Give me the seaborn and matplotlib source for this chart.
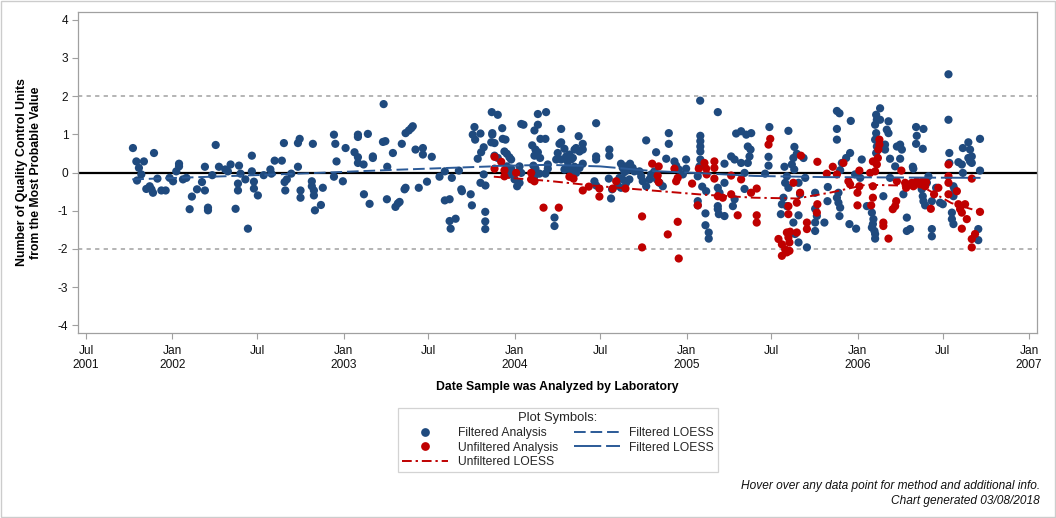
import numpy as np
import pandas as pd
import matplotlib
matplotlib.use("Agg")
import matplotlib.pyplot as plt
import matplotlib.dates as mdates
from matplotlib.lines import Line2D
from matplotlib.patches import Rectangle
import seaborn as sns

# ---------------- data (decimal years, QC units) ----------------
filtered_year = [
    2001.774, 2001.794, 2001.838, 2001.809, 2001.823, 2001.798, 2001.897, 2001.852, 2001.872, 2001.882,
    2001.891, 2001.917, 2001.940, 2001.965, 2001.988, 2002.008, 2002.043, 2002.043, 2002.027, 2002.066,
    2002.086, 2002.105, 2002.118, 2002.148, 2002.177, 2002.194, 2002.194, 2002.212, 2002.212, 2002.237,
    2002.257, 2002.276, 2002.313, 2002.328, 2002.344, 2002.373, 2002.387, 2002.387, 2002.393, 2002.402,
    2002.430, 2002.445, 2002.468, 2002.468, 2002.480, 2002.480, 2002.503, 2002.537, 2002.576, 2002.582,
    2002.601, 2002.643, 2002.655, 2002.659, 2002.663, 2002.672, 2002.698, 2002.737, 2002.747, 2002.737,
    2002.752, 2002.752, 2002.824, 2002.818, 2002.818, 2002.830, 2002.830, 2002.836, 2002.871, 2002.882,
    2002.947, 2002.955, 2002.962, 2002.947, 2002.999, 2003.015, 2003.067, 2003.087, 2003.087, 2003.087,
    2003.145, 2003.087, 2003.120, 2003.122, 2003.155, 2003.174, 2003.174, 2003.233, 2003.247, 2003.237,
    2003.258, 2003.256, 2003.291, 2003.306, 2003.320, 2003.330, 2003.343, 2003.359, 2003.365, 2003.365,
    2003.384, 2003.398, 2003.407, 2003.423, 2003.442,
    2003.466, 2003.466, 2003.518, 2003.490, 2003.563, 2003.594, 2003.594, 2003.622, 2003.635, 2003.622,
    2003.628, 2003.657, 2003.676, 2003.690, 2003.694, 2003.745, 2003.752, 2003.757, 2003.767, 2003.771,
    2003.802, 2003.786, 2003.806, 2003.821, 2003.802, 2003.831, 2003.821, 2003.830, 2003.830, 2003.830,
    2003.868, 2003.903, 2003.871, 2003.871, 2003.865, 2003.884, 2003.929, 2003.932, 2003.948, 2003.884,
    2003.903, 2003.942, 2003.956, 2003.971, 2003.981, 2003.956, 2003.981, 2003.971, 2004.001, 2004.016,
    2004.030, 2004.030, 2004.040, 2004.040, 2004.053, 2004.117, 2004.137, 2004.137, 2004.185, 2004.104,
    2004.123, 2004.117, 2004.137, 2004.150, 2004.152, 2004.181, 2004.111, 2004.123, 2004.117, 2004.146,
    2004.195, 2004.195, 2004.181, 2004.234, 2004.234, 2004.244, 2004.253, 2004.263, 2004.273, 2004.273,
    2004.273, 2004.292, 2004.302, 2004.311, 2004.321, 2004.331, 2004.341, 2004.351, 2004.360, 2004.375,
    2004.380, 2004.399, 2004.399, 2004.292, 2004.311, 2004.331, 2004.351, 2004.360, 2004.380, 2004.399,
    2004.477, 2004.477, 2004.477, 2004.467, 2004.477, 2004.554, 2004.554, 2004.551, 2004.570, 2004.564,
    2004.622, 2004.632, 2004.642, 2004.652, 2004.661, 2004.675, 2004.690, 2004.700, 2004.613, 2004.632,
    2004.652, 2004.671, 2004.603, 2004.622, 2004.730, 2004.740, 2004.749, 2004.769, 2004.788, 2004.798,
    2004.817, 2004.831, 2004.847, 2004.866, 2004.769, 2004.827, 2004.886, 2004.901, 2004.901, 2004.934,
    2004.944, 2004.959, 2004.983, 2005.002, 2005.002, 2005.084, 2005.085, 2005.085, 2005.085, 2005.085,
    2005.085, 2005.080, 2005.070, 2005.096, 2005.119, 2005.070, 2005.070, 2005.115, 2005.115, 2005.134,
    2005.134, 2005.187, 2005.187, 2005.197, 2005.187, 2005.187, 2005.193, 2005.226, 2005.226, 2005.226,
    2005.265, 2005.285, 2005.294, 2005.323, 2005.353, 2005.382, 2005.362, 2005.378, 2005.372, 2005.323,
    2005.362, 2005.343, 2005.343, 2005.285, 2005.275,
    2005.488, 2005.483, 2005.483, 2005.463, 2005.599, 2005.634, 2005.648, 2005.628, 2005.619, 2005.633,
    2005.576, 2005.590, 2005.580, 2005.599, 2005.570, 2005.561, 2005.590, 2005.555, 2005.687, 2005.697,
    2005.658, 2005.667, 2005.658, 2005.628, 2005.638, 2005.658, 2005.707, 2005.755, 2005.755, 2005.765,
    2005.755, 2005.755, 2005.809, 2005.829, 2005.827, 2005.882, 2005.897, 2005.882, 2005.882, 2005.963,
    2005.901, 2005.959, 2005.936, 2005.911, 2005.891, 2005.882, 2005.891, 2005.901, 2005.897, 2005.955,
    2005.994, 2006.027, 2005.988, 2006.018, 2006.057, 2006.086, 2006.095, 2006.092, 2006.105, 2006.105,
    2006.101, 2006.086, 2006.111, 2006.115, 2006.105, 2006.134, 2006.134, 2006.111, 2006.105, 2006.115,
    2006.111, 2006.163, 2006.163, 2006.173, 2006.183, 2006.183, 2006.192, 2006.222, 2006.232, 2006.251,
    2006.261, 2006.251, 2006.153, 2006.192, 2006.270, 2006.290, 2006.290, 2006.309, 2006.325, 2006.328,
    2006.344, 2006.348, 2006.344, 2006.387, 2006.383, 2006.377, 2006.383, 2006.387, 2006.397, 2006.407,
    2006.416, 2006.461, 2006.436, 2006.436, 2006.436, 2006.484, 2006.500, 2006.533, 2006.533, 2006.538,
    2006.538, 2006.562, 2006.568, 2006.562, 2006.553, 2006.553, 2006.562, 2006.591, 2006.611, 2006.617,
    2006.649, 2006.659, 2006.669, 2006.649, 2006.659, 2006.669, 2006.617, 2006.717, 2006.717, 2006.707,
    2006.707,
]
filtered_value = [
    0.64, 0.29, 0.29, 0.12, -0.05, -0.21, 0.51, -0.43, -0.36, -0.44,
    -0.53, -0.16, -0.47, -0.47, -0.14, -0.23, 0.23, 0.16, 0.03, -0.18,
    -0.14, -0.96, -0.63, -0.44, -0.25, 0.15, -0.47, -0.92, -0.99, -0.07,
    0.72, 0.15, 0.08, 0.03, 0.21, -0.95, -0.29, -0.47, 0.18, -0.03,
    -0.18, -1.47, 0.44, 0.03, -0.24, -0.42, -0.60, -0.07, 0.08, -0.03,
    0.31, 0.31, 0.77, -0.25, -0.47, -0.18, -0.03, 0.77, 0.88, 0.15,
    -0.47, -0.66, 0.75, -0.23, -0.36, -0.47, -0.60, -0.99, -0.85, -0.40,
    0.99, 0.75, 0.29, -0.11, -0.23, 0.64, 0.53, 0.40, 0.99, 0.93,
    1.01, 0.25, 0.21, -0.57, -0.82, 0.42, 0.38, 0.80, 0.82, 1.79,
    0.15, -0.70, 0.51, -0.90, -0.81, -0.77, 0.75, -0.44, -0.40, 1.03,
    1.10, 1.16, 1.21, 0.60, -0.40,
    0.64, 0.47, 0.41, -0.24, -0.11, 0.03, -0.73, -0.70, -0.14, -1.27,
    -1.47, -1.21, 0.05, -0.44, -0.49, -0.57, -0.86, 0.99, 1.19, 0.86,
    1.02, 0.36, 0.53, 0.66, -0.27, -0.34, -0.05, -1.03, -1.28, -1.48,
    1.58, 1.51, 1.03, 0.99, 0.79, 0.77, 1.16, 0.88, 0.86, 0.44,
    0.38, 0.55, 0.49, 0.40, 0.34, 0.16, 0.10, -0.05, -0.18, -0.36,
    -0.27, 0.16, -0.01, 1.27, 1.25, 1.10, 1.25, 1.53, 1.58, 0.71,
    0.60, 0.44, 0.53, 0.38, 0.88, 0.88, 0.18, 0.10, -0.10, -0.03,
    0.21, 0.10, -0.03, -1.18, -1.40, 0.34, 0.51, 0.75, 0.79, 1.14,
    0.34, 0.62, 0.42, 0.29, 0.47, 0.34, 0.38, 0.60, 0.64, 0.95,
    0.55, 0.75, 0.60, 0.08, 0.15, 0.03, 0.15, -0.01, 0.12, 0.23,
    1.29, 0.42, 0.34, -0.23, -0.34, 0.60, 0.44, -0.16, -0.44, -0.68,
    0.23, 0.12, 0.01, 0.16, 0.06, 0.23, 0.12, 0.03, -0.14, -0.18,
    -0.27, -0.18, -0.34, -0.40, 0.03, -0.10, -0.23, -0.36, -0.18, -0.05,
    0.03, -0.18, -0.27, -0.36, 0.84, 0.53, 0.36, 1.03, 0.75, 0.29,
    0.18, 0.08, -0.05, 0.34, 0.10, 1.88, 0.96, 0.82, 0.68, 0.55,
    0.34, 0.16, -0.10, -0.37, -0.49, -0.75, -0.86, -1.07, -1.38, -1.57,
    -1.73, 1.58, -0.40, -0.53, -0.88, -0.96, -1.09, -1.14, -0.27, 0.23,
    0.42, 0.34, 1.02, 1.08, 0.99, 1.03, 0.68, 0.60, 0.42, 0.25,
    0.25, -0.01, -0.43, -0.70, -0.88,
    1.19, 0.41, 0.18, -0.03, 1.09, 0.67, 0.49, 0.38, 0.21, 0.08,
    0.15, -0.10, -0.27, -0.40, -0.66, -0.83, -0.88, -1.09, 0.38, -0.14,
    -0.27, -0.57, -1.12, -1.31, -1.61, -1.83, -1.96, -0.53, -0.95, -1.14,
    -1.31, -1.53, -1.31, -0.38, -0.75, 1.61, 1.55, 1.14, 0.86, 1.35,
    0.06, 0.51, 0.38, 0.25, -0.53, -0.66, -0.79, -0.92, -1.14, -1.35,
    -1.47, 0.34, -0.05, -0.14, -0.88, -1.05, -1.22, -1.35, -1.61, -1.73,
    -1.53, -1.44, 1.51, 1.38, 1.25, 1.68, 1.38, 1.03, 0.86, 0.68,
    0.51, 0.73, 0.60, 1.12, 1.03, 1.34, 0.36, 0.16, 0.68, 0.73,
    0.60, 0.36, -0.62, -0.14, -0.57, -1.18, -1.53, -1.48, 0.15, 0.10,
    1.19, 0.96, 0.75, 1.14, 0.62, -0.44, -0.62, -0.75, -0.86, -0.27,
    -0.10, -0.40, -0.75, -1.48, -1.67, -0.79, -0.83, 2.57, 1.38, 0.51,
    0.25, -0.36, -0.44, -0.62, -1.05, -1.22, -1.35, 0.27, 0.21, 0.64,
    0.79, 0.60, 0.42, 0.38, 0.29, 0.25, -0.01, 0.88, 0.05, -1.48,
    -1.77,
]

unfiltered_year = [
    2003.884, 2003.923, 2003.884, 2003.942, 2003.942, 2004.010, 2004.098, 2004.098, 2004.117, 2004.321,
    2004.345, 2004.170, 2004.259, 2004.399, 2004.434, 2004.496, 2004.496, 2004.574, 2004.594, 2004.648,
    2004.745, 2004.745, 2004.804, 2004.842, 2004.836, 2004.842, 2004.895, 2004.953, 2004.959, 2004.934,
    2004.953, 2004.944, 2005.037, 2005.076, 2005.070, 2005.109, 2005.119, 2005.122, 2005.167, 2005.167,
    2005.167, 2005.187, 2005.216, 2005.265, 2005.265, 2005.303, 2005.323, 2005.381, 2005.414, 2005.414,
    2005.414,
    2005.493, 2005.483, 2005.541, 2005.561, 2005.561, 2005.580, 2005.590, 2005.599, 2005.605, 2005.605,
    2005.590, 2005.609, 2005.599, 2005.599, 2005.628, 2005.648, 2005.672, 2005.667, 2005.648, 2005.707,
    2005.707, 2005.768, 2005.768, 2005.765, 2005.823, 2005.858, 2005.882, 2005.920, 2005.949, 2005.959,
    2006.002, 2006.013, 2006.013, 2006.002, 2006.076, 2006.092, 2006.092, 2006.082, 2006.105, 2006.115,
    2006.121, 2006.124, 2006.130, 2006.130, 2006.092, 2006.153, 2006.153, 2006.183, 2006.208, 2006.222,
    2006.228, 2006.232, 2006.258, 2006.280, 2006.286, 2006.319, 2006.328, 2006.348, 2006.367, 2006.383,
    2006.397, 2006.402, 2006.430, 2006.449, 2006.474, 2006.533, 2006.533, 2006.533, 2006.533, 2006.582,
    2006.591, 2006.601, 2006.611, 2006.630, 2006.640, 2006.611, 2006.669, 2006.669, 2006.688, 2006.669,
    2006.717,
]
unfiltered_value = [
    0.41, 0.28, 0.10, 0.06, -0.10, -0.01, -0.01, -0.18, -0.23, -0.11,
    -0.16, -0.92, -0.92, -0.47, -0.37, -0.42, -0.63, -0.42, -0.23, -0.42,
    -1.15, -1.96, 0.23, 0.16, -0.08, -0.25, -1.62, -1.29, -2.25, 0.10,
    -0.14, -0.23, -0.29, 0.10, -0.86, 0.25, 0.10, -0.05, 0.29, 0.12,
    -0.16, -0.62, -0.66, -0.08, -0.57, -1.12, -0.18, -0.53, -0.42, -1.12,
    -1.31,
    0.88, 0.73, -1.74, -1.88, -2.18, -2.01, -1.57, -1.70, -1.83, -2.05,
    -2.09, -1.55, -0.88, -1.09, -0.27, -0.79, 0.44, -0.53, -1.57, -1.31,
    -1.48, 0.28, -0.83, -1.05, -0.03, 0.15, -0.05, 0.25, -0.23, -0.31,
    -0.53, -0.36, 0.05, -0.86, -0.01, -0.36, -0.66, -0.86, 0.03, 0.21,
    0.38, 0.60, 0.86, 0.73, 0.29, -1.31, -1.40, -1.73, -0.96, -0.88,
    -0.75, -0.23, 0.05, -0.27, -0.40, -0.27, -0.36, -0.23, -0.31, -0.23,
    -0.36, -0.25, -0.95, -0.57, -0.40, 0.21, -0.10, -0.27, -0.57, -0.49,
    -0.83, -0.96, -1.05, -0.83, -1.22, -1.47, -0.16, -1.74, -1.61, -1.96,
    -1.03,
]

# LOESS curves
loess_f1_year = [2001.77, 2002.30, 2002.80, 2003.30, 2003.87]
loess_f1_value = [-0.18, -0.10, -0.02, 0.07, 0.16]
loess_f2_year = [2003.87, 2004.20, 2004.50, 2004.80, 2005.10, 2005.40, 2005.80, 2006.20, 2006.72]
loess_f2_value = [0.17, 0.20, 0.16, 0.04, -0.02, -0.09, -0.12, -0.13, -0.14]
loess_u_year = [2003.88, 2004.20, 2004.50, 2004.80, 2005.10, 2005.40, 2005.65, 2005.85,
                2006.05, 2006.25, 2006.40, 2006.55, 2006.72]
loess_u_value = [-0.11, -0.22, -0.36, -0.47, -0.58, -0.66, -0.68, -0.52,
                 -0.32, -0.34, -0.42, -0.80, -1.03]

tick_dates = ["2001-07-01", "2002-01-01", "2002-07-01", "2003-01-01", "2003-07-01", "2004-01-01",
              "2004-07-01", "2005-01-01", "2005-07-01", "2006-01-01", "2006-07-01", "2007-01-01"]
tick_labels = ["Jul\n2001", "Jan\n2002", "Jul", "Jan\n2003", "Jul", "Jan\n2004",
               "Jul", "Jan\n2005", "Jul", "Jan\n2006", "Jul", "Jan\n2007"]
y_ticks = [-4, -3, -2, -1, 0, 1, 2, 3, 4]

# ---------------- helpers ----------------
REF = pd.Timestamp("2001-07-01")


def to_date(years):
    return [REF + pd.Timedelta(days=(y - 2001.5) * 365.25) for y in years]


BLUE = "#1f4a7e"
RED = "#bf0000"
LBLUE = "#2b5a97"

df = pd.concat([
    pd.DataFrame({"date": to_date(filtered_year), "value": filtered_value, "kind": "Filtered Analysis"}),
    pd.DataFrame({"date": to_date(unfiltered_year), "value": unfiltered_value, "kind": "Unfiltered Analysis"}),
], ignore_index=True)

sns.set_theme(style="white")
plt.rcParams["font.family"] = ["Liberation Sans", "DejaVu Sans"]
plt.rcParams["axes.unicode_minus"] = False

W, H = 1056, 518
fig = plt.figure(figsize=(W / 100, H / 100), dpi=100)
ax = fig.add_axes([78 / W, 1 - 333 / H, (1037 - 78) / W, (333 - 12) / H])

# reference lines
ax.axhline(0, color="black", lw=1.6, zorder=1)
for yv in (2, -2):
    ax.axhline(yv, color="#b4b4b4", lw=1.4, ls=(0, (2.2, 2.2)), zorder=1)

sns.scatterplot(data=df, x="date", y="value", hue="kind",
                palette={"Filtered Analysis": BLUE, "Unfiltered Analysis": RED},
                s=35, linewidth=0, alpha=1, legend=False, ax=ax, zorder=3)

ls_f1 = (0, (6, 2.5))
ls_f2 = (0, (14, 2.5))
ls_u = (0, (5, 2, 1.2, 2))
ax.plot(to_date(loess_f1_year), loess_f1_value, color=LBLUE, lw=1.4, ls=ls_f1, zorder=4)
ax.plot(to_date(loess_f2_year), loess_f2_value, color=LBLUE, lw=1.4, ls=ls_f2, zorder=4)
ax.plot(to_date(loess_u_year), loess_u_value, color=RED, lw=1.4, ls=ls_u, zorder=4)

ax.set_xlim(pd.Timestamp("2001-06-14"), pd.Timestamp("2007-01-18"))
ax.set_ylim(-4.2, 4.2)
ax.set_xticks(pd.to_datetime(tick_dates))
ax.set_xticklabels(tick_labels)
ax.set_yticks(y_ticks)
ax.set_yticklabels([str(v) for v in y_ticks])

frame_col = "#a0a0a0"
for sp in ax.spines.values():
    sp.set_visible(True)
    sp.set_color(frame_col)
    sp.set_linewidth(0.9)
ax.tick_params(axis="both", which="major", direction="out", length=4, width=0.8,
               color=frame_col, labelsize=8.6, labelcolor="#111111", pad=3,
               bottom=True, left=True)
ax.tick_params(axis="x", pad=5)
ax.set_xlabel("Date Sample was Analyzed by Laboratory", fontsize=8.8, fontweight="bold",
              labelpad=7, color="black")
ax.set_ylabel("Number of Quality Control Units\nfrom the Most Probable Value", fontsize=8.8,
              fontweight="bold", labelpad=11, color="black", linespacing=1.25)
ax.grid(False)

# legend
handles = [
    Line2D([], [], marker="o", ls="", color=BLUE, markersize=6.3, markeredgewidth=0),
    Line2D([], [], marker="o", ls="", color=RED, markersize=6.3, markeredgewidth=0),
    Line2D([], [], color=RED, lw=1.4, ls=ls_u),
    Line2D([], [], color=LBLUE, lw=1.4, ls=ls_f1),
    Line2D([], [], color=LBLUE, lw=1.4, ls=ls_f2),
]
labels = ["Filtered Analysis", "Unfiltered Analysis", "Unfiltered LOESS",
          "Filtered LOESS", "Filtered LOESS"]
leg = fig.legend(handles, labels, ncol=2, loc="upper center",
                 bbox_to_anchor=(558 / W, 1 - 402 / H), frameon=True, fancybox=False,
                 edgecolor="#c8c8c8", title="Plot Symbols:", title_fontsize=9.4,
                 fontsize=8.7, handlelength=3.8, handletextpad=0.8, columnspacing=1.3,
                 labelspacing=0.22, borderpad=0.35)
leg.get_frame().set_linewidth(0.9)

# footnotes
fig.text(1040 / W, 1 - 486 / H, "Hover over any data point for method and additional info.",
         ha="right", va="center", fontsize=8.6, style="italic", color="#111111")
fig.text(1040 / W, 1 - 501 / H, "Chart generated 03/08/2018",
         ha="right", va="center", fontsize=8.6, style="italic", color="#111111")

# outer border
fig.patches.append(Rectangle((0.0006, 0.001), 0.9985, 0.997, transform=fig.transFigure,
                             fill=False, edgecolor="#cccccc", lw=1.0))

fig.savefig("out.png", dpi=100)
